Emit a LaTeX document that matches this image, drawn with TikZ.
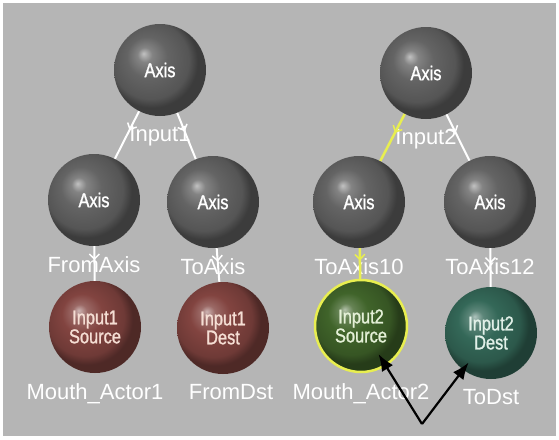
\documentclass[tikz,border=0pt]{standalone}
\usepackage{fontspec}
\setmainfont{Liberation Sans}
\newfontfamily\narrowsans[FakeStretch=0.82,FakeBold=1.2]{Liberation Sans}
\usepackage{tikz}
\usetikzlibrary{positioning}
\usetikzlibrary{arrows.meta,decorations.markings}

\definecolor{panelgray}{RGB}{181,181,181}
\definecolor{axisgray}{RGB}{100,100,100}
\definecolor{mouthred}{RGB}{130,68,64}
\definecolor{mouthgreen}{RGB}{64,100,42}
\definecolor{dstteal}{RGB}{52,104,88}
\definecolor{wireyellow}{RGB}{232,238,80}
\colorlet{ballbase}{gray}
\pgfdeclareradialshading[ballbase]{orb}{\pgfpoint{-9bp}{9bp}}{%
  color(0bp)=(ballbase!40!white); color(4bp)=(ballbase!80!white);
  color(11bp)=(ballbase); color(21bp)=(ballbase!85!black);
  color(25bp)=(ballbase!60!black); color(50bp)=(ballbase!60!black)}

\begin{document}
\begin{tikzpicture}[x=1pt,y=-1pt,
      sphere/.style={circle,minimum size=92pt,inner sep=0pt,shading=orb,align=center,
        font=\narrowsans\fontsize{20}{19}\selectfont},
      axisball/.style={sphere,text=white,/utils/exec={\colorlet{ballbase}{axisgray}}},
      redball/.style={sphere,text={rgb,255:red,245;green,222;blue,212},/utils/exec={\colorlet{ballbase}{mouthred}}},
      greenball/.style={sphere,text={rgb,255:red,228;green,240;blue,215},draw=wireyellow,line width=2.5pt,/utils/exec={\colorlet{ballbase}{mouthgreen}}},
      tealball/.style={sphere,text={rgb,255:red,225;green,240;blue,232},/utils/exec={\colorlet{ballbase}{dstteal}}},
      tag/.style={text=white,inner sep=0pt,font=\fontsize{22}{22}\selectfont},
      label distance=10pt,
      wire/.style={draw=white,line width=2pt,postaction={decorate},
        decoration={markings,mark=at position 0.4 with {\arrow{Straight Barb[length=5pt,width=10pt,line width=1.5pt]}}}},
      hotwire/.style={wire,draw=wireyellow,line width=2.5pt},
      pointer/.style={-{Latex[length=17pt,width=13pt]},line width=2.2pt,black}]
      \useasboundingbox (0,0) rectangle (559,439);
      \fill[panelgray] (3,3) rectangle (556,436);

      % Blocks
      \node[axisball,label={[tag]below:Input1}]   (input1)   at (160,70)  {Axis};
      \node[axisball,label={[tag]below:Input2}]   (input2)   at (426,73)  {Axis};
      \node[axisball,label={[tag]below:FromAxis}] (fromaxis) at (94,200)  {Axis};
      \node[axisball,label={[tag]below:ToAxis}]   (toaxis)   at (213,202) {Axis};
      \node[axisball,label={[tag]below:ToAxis10}] (toaxis10) at (359,202) {Axis};
      \node[axisball,label={[tag]below:ToAxis12}] (toaxis12) at (490,202) {Axis};
      \node[redball,label={[tag]below:Mouth\_Actor1}]        (actor1)  at (95,327)  {Input1\\Source};
      \node[redball,label={[tag,xshift=8pt]below:FromDst}]   (fromdst) at (223,328) {Input1\\Dest};
      \node[greenball,label={[tag]below:Mouth\_Actor2}]      (actor2)  at (361,326) {Input2\\Source};
      \node[tealball,label={[tag]below:ToDst}]               (todst)   at (491,333) {Input2\\Dest};
      \coordinate (fork) at (422,424);

      % Wires
      \draw[wire]    (input1) -- (fromaxis);
      \draw[wire]    (input1) -- (toaxis);
      \draw[hotwire] (input2) -- (toaxis10);
      \draw[wire]    (input2) -- (toaxis12);
      \draw[wire]    (fromaxis) -- (actor1);
      \draw[wire]    (toaxis) -- (fromdst);
      \draw[hotwire] (toaxis10) -- (actor2);
      \draw[wire]    (toaxis12) -- (todst);

      % Arrows
      \draw[pointer,shorten >=33pt] (fork) -- (actor2.center);
      \draw[pointer,shorten >=37pt] (fork) -- (todst.center);

    \end{tikzpicture}
\end{document}
